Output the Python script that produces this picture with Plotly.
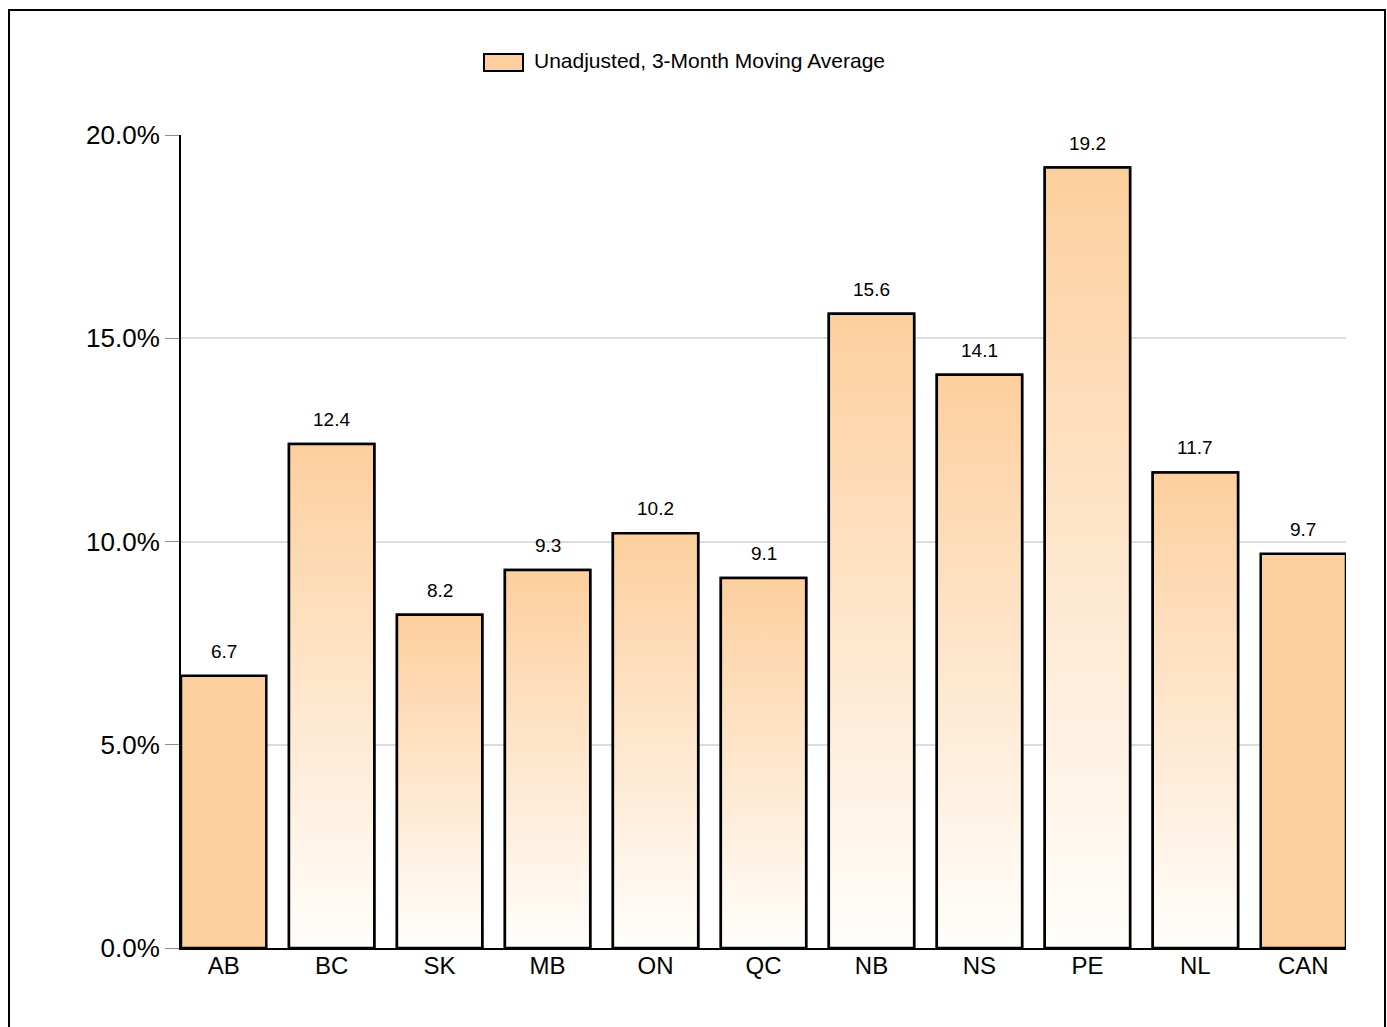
import plotly.graph_objects as go

categories = ["AB", "BC", "SK", "MB", "ON", "QC", "NB", "NS", "PE", "NL", "CAN"]
values = [6.7, 12.4, 8.2, 9.3, 10.2, 9.1, 15.6, 14.1, 19.2, 11.7, 9.7]
solid = ["AB", "CAN"]
y_ticks = [0, 5, 10, 15, 20]
y_tick_labels = ["0.0%", "5.0%", "10.0%", "15.0%", "20.0%"]
legend_name = "Unadjusted, 3-Month Moving Average"

PEACH = "#FDCF9E"
WHITE = "#FFFEFC"
BAR_W = 0.79
FONT = "Liberation Sans, Arial, sans-serif"

xs = list(range(len(categories)))
fig = go.Figure()

fig.add_trace(go.Bar(
    x=xs, y=values, width=BAR_W, name=legend_name,
    marker=dict(color=[PEACH if c in solid else "rgba(0,0,0,0)" for c in categories],
                line=dict(color="black", width=2.5)),
    showlegend=False, hovertemplate="%{y:.1f}<extra></extra>",
))

for i, (c, v) in enumerate(zip(categories, values)):
    if c in solid:
        continue
    x0, x1 = i - BAR_W / 2, i + BAR_W / 2
    fig.add_trace(go.Scatter(
        x=[x0, x0, x1, x1, x0], y=[0, v, v, 0, 0],
        mode="lines", fill="toself",
        fillgradient=dict(type="vertical", colorscale=[[0, WHITE], [1, PEACH]]),
        line=dict(color="black", width=2.5),
        showlegend=False, hoverinfo="skip",
    ))

for i, v in enumerate(values):
    fig.add_annotation(x=i, y=v, text=f"{v:.1f}", showarrow=False,
                       yanchor="bottom", yshift=12,
                       font=dict(size=19, color="black", family=FONT))

# legend swatch + label
fig.add_shape(type="rect", xref="paper", yref="paper",
              x0=(484 - 181) / 1165, x1=(523 - 181) / 1165,
              y0=(948 - 71) / 813, y1=(948 - 54) / 813,
              fillcolor=PEACH, line=dict(color="black", width=2))
fig.add_annotation(xref="paper", yref="paper", x=(532 - 181) / 1165, y=(948 - 61) / 813,
                   xanchor="left", yanchor="middle", showarrow=False, text=legend_name,
                   font=dict(size=21, color="black", family=FONT))

# outer frame
fig.add_shape(type="rect", xref="paper", yref="paper",
              x0=(9 - 181) / 1165, x1=(1385 - 181) / 1165,
              y0=(948 - 1040) / 813, y1=(948 - 10) / 813,
              line=dict(color="black", width=2), fillcolor="rgba(0,0,0,0)", layer="above")

fig.update_layout(
    width=1387, height=1027,
    margin=dict(l=181, r=41, t=135, b=79),
    paper_bgcolor="white", plot_bgcolor="white",
    font=dict(family=FONT, color="black"),
    showlegend=False,
)
fig.update_xaxes(
    range=[-BAR_W / 2, len(categories) - 1 + BAR_W / 2],
    tickvals=xs, ticktext=categories, showgrid=False, zeroline=False,
    showline=True, linecolor="black", linewidth=2, ticks="",
    ticklabelstandoff=-5,
    tickfont=dict(size=24, color="black", family=FONT),
)
fig.update_yaxes(
    range=[0, 20], tickvals=y_ticks, ticktext=y_tick_labels,
    showgrid=True, gridcolor="#DCDCDC", gridwidth=2, zeroline=False,
    showline=True, linecolor="black", linewidth=2,
    ticks="outside", ticklen=14, tickcolor="#8C8C8C", tickwidth=1,
    ticklabelstandoff=0,
    tickfont=dict(size=26, color="black", family=FONT),
)

fig.write_html("out.html", config={"displayModeBar": False},
               post_script="document.body.style.margin='0';")
